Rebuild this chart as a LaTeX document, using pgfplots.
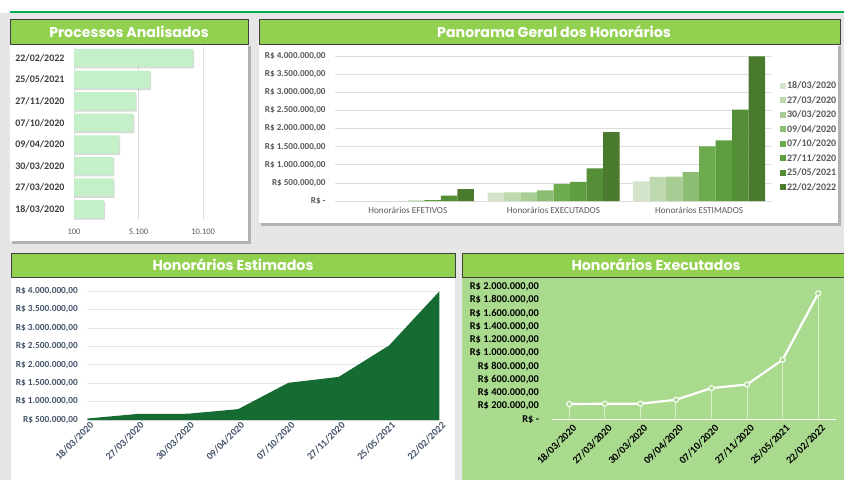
\documentclass[border=0pt]{standalone}
\usepackage{fontspec}
\setmainfont{Carlito}
\newfontfamily\titlefont{Poppins}
\usepackage{pgfplots}
\usepackage{pgfplotstable}
\pgfplotsset{compat=1.18}
\usetikzlibrary{shadows}

\definecolor{titlegreen}{HTML}{92D050}
\definecolor{linegreen}{HTML}{00B050}
\definecolor{bggray}{HTML}{E6E6E6}
\definecolor{barmint}{HTML}{C3F0C8}
\definecolor{estgreen}{HTML}{156B32}
\definecolor{execbg}{HTML}{A9DA8E}
\definecolor{gridgray}{HTML}{DDDDDD}
\definecolor{txtgray}{HTML}{595959}
\definecolor{darktxt}{HTML}{404040}
\definecolor{bluegray}{HTML}{44546A}
\definecolor{c1}{HTML}{D3E4CA}
\definecolor{c2}{HTML}{BDD9AD}
\definecolor{c3}{HTML}{A8CD94}
\definecolor{c4}{HTML}{8BBE72}
\definecolor{c5}{HTML}{6DAB4F}
\definecolor{c6}{HTML}{5F9D41}
\definecolor{c7}{HTML}{548E37}
\definecolor{c8}{HTML}{4A7A2E}

% one row per date
\pgfplotstableread{
idx proc efet exec estim
0 2430 0 230000 540000
1 3160 0 235000 665000
2 3150 0 235000 670000
3 3590 0 295000 795000
4 4700 8000 470000 1510000
5 4880 25000 525000 1670000
6 5990 150000 900000 2520000
7 9330 330000 1900000 3990000
}\dados

% one row per category (efetivos, executados, estimados)
\pgfplotstableread{
cat d1 d2 d3 d4 d5 d6 d7 d8
0 0 0 0 0 8000 25000 150000 330000
1 230000 235000 235000 295000 470000 525000 900000 1900000
2 540000 665000 670000 795000 1510000 1670000 2520000 3990000
}\panorama

\newcommand{\datas}{18/03/2020,27/03/2020,30/03/2020,09/04/2020,07/10/2020,27/11/2020,25/05/2021,22/02/2022}
\newcommand{\ttl}{\titlefont\bfseries\fontsize{14.2}{16}\selectfont}

\begin{document}
\begin{tikzpicture}
% fundo e paineis
\fill[white] (0pt,0pt) rectangle (844pt,-480pt);
\fill[bggray] (0pt,-13pt) rectangle (844pt,-480pt);
\fill[linegreen] (10pt,-10.5pt) rectangle (844pt,-13pt);

\fill[black!30] (12pt,-46pt) rectangle (251pt,-244pt);
\fill[white] (10pt,-44pt) rectangle (248pt,-241pt);
\filldraw[fill=titlegreen, draw=darktxt, line width=1pt] (10pt,-19pt) rectangle (248pt,-44pt);
\node[text=white, font=\ttl] at (129pt,-31.5pt) {Processos Analisados};

\fill[black!30] (261pt,-46pt) rectangle (841pt,-226pt);
\fill[white] (259pt,-44pt) rectangle (838pt,-223pt);
\filldraw[fill=titlegreen, draw=darktxt, line width=1pt] (259pt,-19pt) rectangle (840pt,-44pt);
\node[text=white, font=\ttl] at (554pt,-31.5pt) {Panorama Geral dos Honorários};

\fill[white] (11pt,-277pt) rectangle (455pt,-480pt);
\filldraw[fill=titlegreen, draw=darktxt, line width=1pt] (11pt,-253pt) rectangle (455pt,-277pt);
\node[text=white, font=\ttl] at (233pt,-265pt) {Honorários Estimados};

\fill[execbg] (462pt,-277pt) rectangle (846pt,-480pt);
\filldraw[fill=titlegreen, draw=darktxt, line width=1pt] (462pt,-253pt) rectangle (846pt,-277pt);
\node[text=white, font=\ttl] at (656pt,-265pt) {Honorários Executados};

% Processos Analisados
\begin{axis}[
  at={(74pt,-219.8pt)}, anchor=south west, scale only axis,
  width=155pt, height=172.6pt,
  xbar, bar width=18pt,
  xmin=100, xmax=12100, ymin=-0.5, ymax=7.5,
  xtick={100,5100,10100}, xticklabels={100,5.100,10.100},
  scaled x ticks=false,
  ytick={0,...,7}, yticklabels/.expanded={\datas},
  axis line style={draw=none}, major tick length=0pt,
  xmajorgrids, major grid style={gridgray, line width=0.6pt},
  xticklabel style={font=\fontsize{8.5}{9}\selectfont, text=txtgray, yshift=-6pt},
  yticklabel style={font=\bfseries\fontsize{10}{11}\selectfont, text=darktxt, xshift=-6pt},
]
\addplot[fill=barmint, draw=none, drop shadow={shadow xshift=1pt, shadow yshift=-1.5pt, opacity=0.3}] table[x=proc, y=idx] {\dados};
\end{axis}

% Panorama Geral
\begin{axis}[
  at={(335pt,-201pt)}, anchor=south west, scale only axis,
  width=437pt, height=145pt,
  ybar=0pt, bar width=16.5pt,
  xmin=-0.5, xmax=2.5, ymin=0, ymax=4000000,
  xtick={0,1,2}, xticklabels={Honorários EFETIVOS,Honorários EXECUTADOS,Honorários ESTIMADOS},
  ytick={0,500000,1000000,1500000,2000000,2500000,3000000,3500000,4000000},
  yticklabels={{R\$ -},{R\$ 500.000,00},{R\$ 1.000.000,00},{R\$ 1.500.000,00},{R\$ 2.000.000,00},{R\$ 2.500.000,00},{R\$ 3.000.000,00},{R\$ 3.500.000,00},{R\$ 4.000.000,00}},
  scaled y ticks=false,
  axis line style={draw=none}, major tick length=0pt,
  ymajorgrids, major grid style={gridgray, line width=0.6pt},
  xticklabel style={font=\fontsize{9.2}{10}\selectfont, text=txtgray, yshift=-3pt},
  yticklabel style={font=\bfseries\fontsize{9.1}{10}\selectfont, text=txtgray, xshift=-6pt},
  legend style={at={(1.018,0.832)}, anchor=north west, draw=none, fill=none,
    font=\bfseries\fontsize{10}{11}\selectfont, text=txtgray, row sep=4pt,
    inner sep=0pt, nodes={inner sep=1pt}},
  legend cell align=left,
  legend image code/.code={\fill[#1] (0pt,-3pt) rectangle (6pt,3pt);},
]
\addplot[fill=c1, draw=none] table[x=cat, y=d1] {\panorama}; \addlegendentry{18/03/2020}
\addplot[fill=c2, draw=none] table[x=cat, y=d2] {\panorama}; \addlegendentry{27/03/2020}
\addplot[fill=c3, draw=none] table[x=cat, y=d3] {\panorama}; \addlegendentry{30/03/2020}
\addplot[fill=c4, draw=none] table[x=cat, y=d4] {\panorama}; \addlegendentry{09/04/2020}
\addplot[fill=c5, draw=none] table[x=cat, y=d5] {\panorama}; \addlegendentry{07/10/2020}
\addplot[fill=c6, draw=none] table[x=cat, y=d6] {\panorama}; \addlegendentry{27/11/2020}
\addplot[fill=c7, draw=none] table[x=cat, y=d7] {\panorama}; \addlegendentry{25/05/2021}
\addplot[fill=c8, draw=none] table[x=cat, y=d8] {\panorama}; \addlegendentry{22/02/2022}
\end{axis}

% Honorarios Estimados
\begin{axis}[
  at={(87.3pt,-420pt)}, anchor=south west, scale only axis,
  width=352pt, height=129pt,
  xmin=0, xmax=7, ymin=500000, ymax=4000000,
  xtick={0,...,7}, xticklabels/.expanded={\datas},
  ytick={500000,1000000,1500000,2000000,2500000,3000000,3500000,4000000},
  yticklabels={{R\$ 500.000,00},{R\$ 1.000.000,00},{R\$ 1.500.000,00},{R\$ 2.000.000,00},{R\$ 2.500.000,00},{R\$ 3.000.000,00},{R\$ 3.500.000,00},{R\$ 4.000.000,00}},
  scaled y ticks=false,
  axis line style={draw=none}, major tick length=0pt,
  ymajorgrids, major grid style={color=bluegray!15, line width=0.6pt},
  xticklabel style={font=\bfseries\fontsize{10}{11}\selectfont, text=bluegray, rotate=45, anchor=east, xshift=4pt, yshift=-6pt},
  yticklabel style={font=\bfseries\fontsize{9.3}{10}\selectfont, text=bluegray, xshift=-6pt},
]
\addplot[fill=estgreen, draw=none] table[x=idx, y=estim] {\dados} \closedcycle;
\end{axis}

% Honorarios Executados
\begin{axis}[
  at={(551.5pt,-419.3pt)}, anchor=south west, scale only axis,
  width=284.5pt, height=132.6pt,
  xmin=-0.5, xmax=7.5, ymin=0, ymax=2000000,
  xtick={0,...,7}, xticklabels/.expanded={\datas},
  ytick={0,200000,400000,600000,800000,1000000,1200000,1400000,1600000,1800000,2000000},
  yticklabels={{R\$ -},{R\$ 200.000,00},{R\$ 400.000,00},{R\$ 600.000,00},{R\$ 800.000,00},{R\$ 1.000.000,00},{R\$ 1.200.000,00},{R\$ 1.400.000,00},{R\$ 1.600.000,00},{R\$ 1.800.000,00},{R\$ 2.000.000,00}},
  scaled y ticks=false,
  axis line style={draw=none}, major tick length=0pt,
  xticklabel style={font=\bfseries\fontsize{10.3}{11}\selectfont, text=black, rotate=45, anchor=east, xshift=2pt, yshift=-9pt},
  yticklabel style={font=\bfseries\fontsize{10.4}{11}\selectfont, text=black, xshift=-9pt},
]
\draw[white, line width=1.2pt] (rel axis cs:0,0) -- (rel axis cs:1,0);
\addplot[ycomb, draw=white, opacity=0.55, line width=1pt, mark=none] table[x=idx, y=exec] {\dados};
\addplot[white, line width=2.2pt, mark=*, mark size=2.6pt, mark options={draw=white, fill=execbg, line width=1pt}] table[x=idx, y=exec] {\dados};
\end{axis}

\pgfresetboundingbox
\useasboundingbox (0pt,0pt) rectangle (844pt,-480pt);
\end{tikzpicture}
\end{document}
